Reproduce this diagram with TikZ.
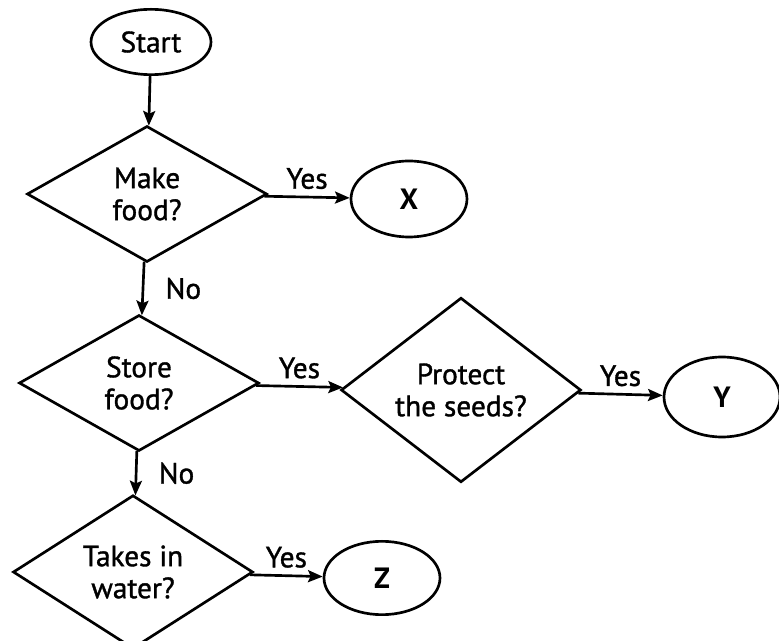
\documentclass[tikz,border=0pt]{standalone}
\usepackage{fontspec}
\setmainfont{PT Sans}
\newfontfamily\chartfont{PT Sans}[UprightFeatures={FakeBold=1.2}]
\usetikzlibrary{shapes.geometric,arrows.meta}

\tikzset{every picture/.style={line width=2pt}}
\tikzset{
  question/.style={diamond, draw, inner sep=0pt, minimum width=180pt, minimum height=102pt, align=center, font=\fontsize{22}{24}\chartfont},
  endbox/.style={ellipse, draw, inner sep=0pt, minimum width=87pt, minimum height=57pt, font=\fontsize{22}{24}\selectfont\bfseries},
  flow/.style={-{Stealth[length=11pt,width=9pt,inset=2pt]}},
  answer/.style={font=\fontsize{22}{24}\chartfont, inner sep=2pt}
}

\begin{document}
\begin{tikzpicture}[x=0.75pt,y=0.75pt,yscale=-1,xscale=1]
\useasboundingbox (0,0) rectangle (779,641);

%Shape: Ellipse [start]
\node[endbox, minimum width=90pt, minimum height=49pt, font=\fontsize{22}{24}\chartfont] (start) at (151,42) {Start};

%Shape: Diamond [questions]
\node[question] (makefood) at (147,194) {Make\\food?};
\node[question] (storefood) at (139,383) {Store\\food?};
\node[question] (protect) at (461,390) {Protect\\the seeds?};
\node[question] (water) at (133,572) {Takes in\\water?};

%Shape: Ellipse [answers]
\node[endbox] (x) at (409,199) {X};
\node[endbox, minimum height=60pt] (y) at (722,397) {Y};
\node[endbox, minimum height=55pt] (z) at (382,578) {Z};

%Straight Lines
\draw[flow] (start) -- (makefood);
\draw[flow] (makefood) -- node[answer, above, yshift=3pt] {Yes} (x);
\draw[flow] (makefood) -- node[answer, right, xshift=14pt] {No} (storefood);
\draw[flow] (storefood) -- node[answer, above, yshift=3pt] {Yes} (protect);
\draw[flow] (protect) -- node[answer, above, yshift=3pt] {Yes} (y);
\draw[flow] (storefood) -- node[answer, right, xshift=14pt] {No} (water);
\draw[flow] (water) -- node[answer, above, yshift=3pt] {Yes} (z);

\end{tikzpicture}
\end{document}
